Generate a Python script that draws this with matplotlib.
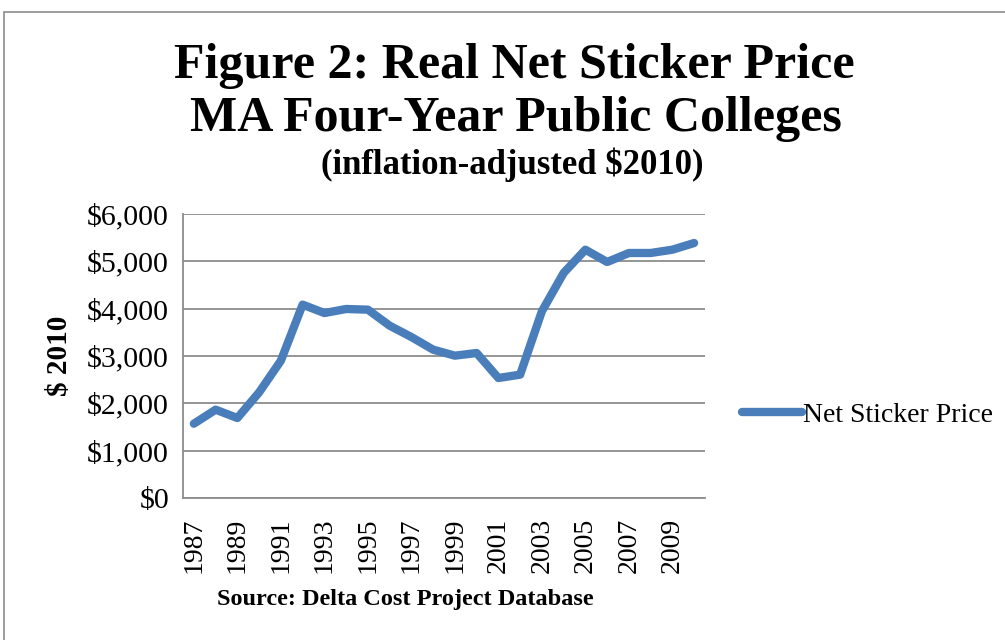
import matplotlib
matplotlib.use("Agg")
import matplotlib.pyplot as plt
from matplotlib.patches import Rectangle
from matplotlib.ticker import FuncFormatter

# Net sticker price, MA four-year public colleges, $2010
years = list(range(1987, 2011))
price = [1570, 1866, 1690, 2232, 2901, 4085, 3908, 3993, 3979, 3641, 3401, 3134,
         3007, 3063, 2535, 2606, 3944, 4754, 5246, 4986, 5176, 5176, 5246, 5387]
tick_years = list(range(1987, 2011, 2))
y_ticks = [0, 1000, 2000, 3000, 4000, 5000, 6000]

serif = "Liberation Serif"
blue = "#4A7EBB"
grid_gray = "#8C8C8C"

fig = plt.figure(figsize=(10.05, 6.4), dpi=100)
fig.patches.append(Rectangle((4 / 1005, -0.1), 1.1, 1 - 12 / 640 + 0.1,
                             transform=fig.transFigure, fill=False,
                             edgecolor="#8C8C8C", linewidth=1.2))

ax = fig.add_axes([183 / 1005, 1 - 498 / 640, (705 - 183) / 1005, (498 - 214) / 640])
idx = list(range(len(years)))
ax.plot(idx, price, color=blue, linewidth=6, solid_capstyle="round",
        solid_joinstyle="round", label="Net Sticker Price", zorder=3)

ax.set_xlim(-0.5, len(years) - 0.5)
ax.set_ylim(0, 6000)
ax.set_yticks(y_ticks)
ax.yaxis.set_major_formatter(FuncFormatter(lambda v, p: "${:,.0f}".format(v)))
ax.set_xticks([years.index(y) for y in tick_years])
ax.set_xticklabels([str(y) for y in tick_years], rotation=90)
ax.grid(axis="y", color=grid_gray, linewidth=1.3)
ax.set_axisbelow(True)
for s in ["top", "right"]:
    ax.spines[s].set_visible(False)
ax.spines["left"].set_color(grid_gray)
ax.spines["bottom"].set_color(grid_gray)
ax.spines["left"].set_linewidth(1.3)
ax.spines["bottom"].set_linewidth(1.3)
ax.tick_params(axis="y", length=0, labelsize=21.5, pad=10)
ax.tick_params(axis="x", length=0, labelsize=20, pad=14)
for lab in ax.get_xticklabels() + ax.get_yticklabels():
    lab.set_fontfamily(serif)
ax.set_ylabel("$ 2010", fontfamily=serif, fontsize=21, fontweight="bold", labelpad=10)

fig.text(514 / 1005, 1 - 66 / 640, "Figure 2: Real Net Sticker Price", ha="center",
         va="center", fontfamily=serif, fontsize=36, fontweight="bold")
fig.text(516 / 1005, 1 - 119 / 640, "MA Four-Year Public Colleges", ha="center",
         va="center", fontfamily=serif, fontsize=36, fontweight="bold")
fig.text(512 / 1005, 1 - 165 / 640, "(inflation-adjusted $2010)", ha="center",
         va="center", fontfamily=serif, fontsize=25, fontweight="bold")
fig.text(405 / 1005, 1 - 600 / 640, "Source: Delta Cost Project Database", ha="center",
         va="center", fontfamily=serif, fontsize=17.5, fontweight="bold")

leg = ax.legend(loc="center left", bbox_to_anchor=(742 / 1005, 1 - 415 / 640),
                bbox_transform=fig.transFigure, frameon=False, borderpad=0,
                borderaxespad=0, handlelength=2.15, handletextpad=0.05,
                prop={"family": serif, "size": 20})

fig.savefig("out.png", dpi=100)
